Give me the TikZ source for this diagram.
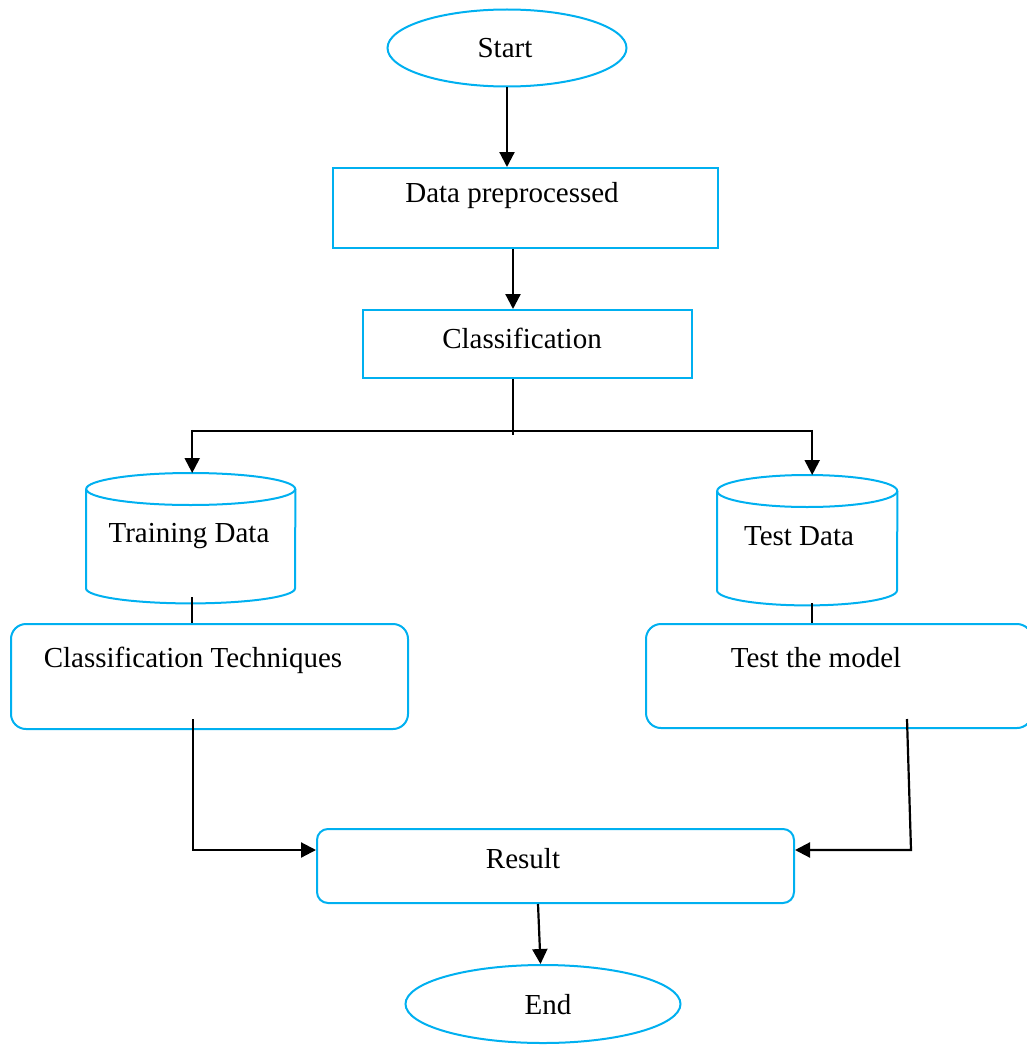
\documentclass[tikz,border=0pt]{standalone}
\usepackage{fontspec}
\setmainfont{Liberation Serif}
\usetikzlibrary{arrows.meta,shapes.geometric}
\definecolor{wordblue}{RGB}{0,176,240}
\tikzset{
  blueline/.style={draw=wordblue,line width=2pt},
  boxnode/.style={blueline,rectangle,inner sep=0pt,anchor=north west},
  roundbox/.style={boxnode,rounded corners=15pt},
  ovalnode/.style={blueline,ellipse,inner sep=0pt},
  txt/.style={inner sep=0pt,font=\fontsize{29}{34}\selectfont},
  conn/.style={draw=black,line width=2.2pt},
  arr/.style={conn,-{Triangle[length=15pt,width=15pt]}},
}
\begin{document}
\begin{tikzpicture}[x=1pt,y=-1pt]
\useasboundingbox (0,0) rectangle (1027,1046);
\begin{scope}
\clip (0,0) rectangle (1027,1046);
% Start / End
\node[ovalnode,minimum width=239pt,minimum height=77pt] (st) at (507,48) {};
\node[txt] (stT) at (505,48) {Start};
\node[ovalnode,minimum width=275pt,minimum height=78pt] (en) at (543,1004) {};
\node[txt] (enT) at (548,1005) {End};
% rectangles
\node[boxnode,minimum width=385pt,minimum height=80pt] (dp) at (332,167) {};
\node[txt] (dpT) at (512,196) {Data preprocessed};
\node[boxnode,minimum width=329pt,minimum height=68pt] (cl) at (362,309) {};
\node[txt] (clT) at (522,338) {Classification};
% cylinders (body frames)
\node[inner sep=0pt,anchor=north west,minimum width=209pt,minimum height=130pt] (tr) at (86,473) {};
\node[txt] (trT) at (189,536) {Training Data};
\node[inner sep=0pt,anchor=north west,minimum width=180pt,minimum height=130pt] (te) at (717,475) {};
\node[txt] (teT) at (799,536) {Test Data};
% rounded boxes
\node[roundbox,minimum width=397pt,minimum height=105pt] (ct) at (10,623) {};
\node[txt] (ctT) at (193,660) {Classification Techniques};
\node[roundbox,minimum width=386pt,minimum height=104pt] (tm) at (645,623) {};
\node[txt] (tmT) at (816,658) {Test the model};
\node[roundbox,rounded corners=11pt,minimum width=477pt,minimum height=74pt] (rs) at (316,828) {};
\node[txt] (rsT) at (523,859) {Result};
% cylinder outlines
\draw[blueline] ([yshift=-16pt]tr.north) ellipse [x radius=104.5pt, y radius=16pt];
\draw[blueline] ([yshift=-16pt]tr.north west) -- ([yshift=15pt]tr.south west)
  arc[start angle=180,end angle=360,x radius=104.5pt,y radius=15pt] -- ([yshift=-16pt]tr.north east);
\draw[blueline] ([yshift=-16pt]te.north) ellipse [x radius=90pt, y radius=16pt];
\draw[blueline] ([yshift=-16pt]te.north west) -- ([yshift=15pt]te.south west)
  arc[start angle=180,end angle=360,x radius=90pt,y radius=15pt] -- ([yshift=-16pt]te.north east);
% connectors
\draw[arr] (st.south) -- (st.south |- dp.north);
\coordinate (dpout) at ([xshift=-12.5pt]dp.south);
\draw[arr] (dpout) -- (dpout |- cl.north);
\coordinate (clout) at ([xshift=-14.5pt]cl.south);
\coordinate (split) at ([yshift=-56pt]clout);
\coordinate (jL) at ([xshift=1.5pt]tr.north |- split);
\coordinate (jR) at ([xshift=5pt]te.north |- split);
\draw[conn] (clout) -- (split);
\draw[conn] ([yshift=4pt]jL) -- ([yshift=4pt]jR);
\draw[arr] ([yshift=5.1pt]jL) -- ([xshift=1.5pt]tr.north);
\draw[arr] ([yshift=5.1pt]jR) -- ([xshift=5pt]te.north);
\draw[conn] ([xshift=1.5pt,yshift=6pt]tr.south) -- ([xshift=1.5pt]tr.south |- ct.north);
\draw[conn] ([xshift=5pt,yshift=2pt]te.south) -- ([xshift=5pt]te.south |- tm.north);
\coordinate (ctout) at ([xshift=-16.5pt,yshift=11pt]ct.south);
\coordinate (lbend) at (ctout |- 0,850);
\draw[arr] (ctout) -- (lbend) -- (lbend -| rs.west);
\coordinate (tmout) at ([xshift=68pt,yshift=10pt]tm.south);
\coordinate (rbend) at ([xshift=4pt]tmout |- 0,850);
\draw[arr] (tmout) -- (rbend) -- (rbend -| rs.east);
\coordinate (rsout) at ([xshift=-17.5pt]rs.south);
\draw[arr] (rsout) -- ([xshift=-2.5pt]en.north);
\end{scope}
\end{tikzpicture}
\end{document}
